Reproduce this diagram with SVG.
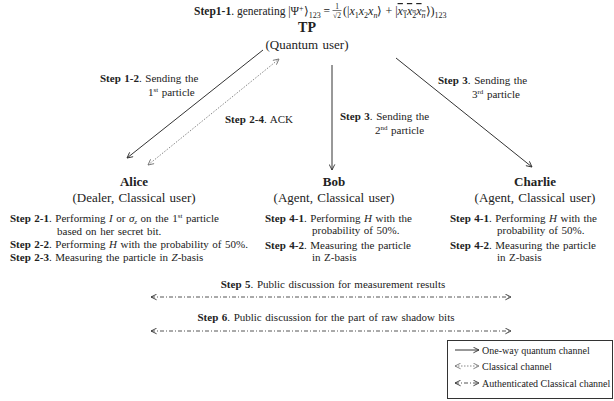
<svg xmlns="http://www.w3.org/2000/svg" width="614" height="401" viewBox="0 0 614 401" font-family="'Liberation Serif','Times New Roman',serif">
<defs>
<style>
text{font-family:"Liberation Serif","Times New Roman",serif;fill:#222}
.s{font-size:11px;word-spacing:0.8px}
.b{font-weight:bold}
.i{font-style:italic}
.n{font-size:13px;font-weight:bold;text-anchor:middle}
.r{font-size:13px;text-anchor:middle;word-spacing:1px}
.lg{font-size:10px}
.q{stroke:#333;stroke-width:1;fill:none}
.c{stroke:#888;stroke-width:1;fill:none;stroke-dasharray:1.5,1.5}
.a{stroke:#555;stroke-width:1;fill:none;stroke-dasharray:4,2,1,2}
</style>
<marker id="ah" viewBox="0 0 10 10" refX="9" refY="5" markerWidth="7" markerHeight="7" orient="auto-start-reverse" markerUnits="userSpaceOnUse">
<path d="M1,1 L9,5 L1,9" fill="none" stroke="#333" stroke-width="1.3"/>
</marker>
<marker id="ahg" viewBox="0 0 10 10" refX="9" refY="5" markerWidth="7" markerHeight="7" orient="auto-start-reverse" markerUnits="userSpaceOnUse">
<path d="M1,1 L9,5 L1,9" fill="none" stroke="#777" stroke-width="1.3"/>
</marker>
</defs>
<rect width="614" height="401" fill="#fff"/>

<g id="title">
<text x="330" y="15" text-anchor="end" style="font-size:11.5px"><tspan class="b">Step1-1</tspan>. generating  |Ψ<tspan font-size="8" dy="-4">+</tspan><tspan dy="4">⟩</tspan><tspan font-size="8" dy="2.5">123</tspan><tspan dy="-2.5"> =</tspan></text>
<text x="337" y="9" style="font-size:7.5px" text-anchor="middle">1</text>
<line x1="332.5" y1="10.5" x2="341.5" y2="10.5" stroke="#222" stroke-width="0.6"/>
<text x="337" y="18" style="font-size:7.5px" text-anchor="middle">√2</text>
<text x="343" y="15" style="font-size:12px">(|<tspan class="i">x</tspan><tspan font-size="8" dy="2.5">1</tspan><tspan class="i" dy="-2.5">x</tspan><tspan font-size="8" dy="2.5">2</tspan><tspan class="i" dy="-2.5">x</tspan><tspan font-size="8" dy="2.5" class="i">n</tspan><tspan dy="-2.5">⟩ + |</tspan><tspan style="text-decoration:overline"><tspan class="i">x</tspan><tspan font-size="8" dy="2.5">1</tspan><tspan class="i" dy="-2.5">x</tspan><tspan font-size="8" dy="2.5">2</tspan><tspan class="i" dy="-2.5">x</tspan><tspan font-size="8" dy="2.5" class="i">n</tspan></tspan><tspan dy="-2.5">⟩)</tspan><tspan font-size="8" dy="2.5">123</tspan></text>
</g>

<g id="tp">
<text x="307" y="32" class="n" style="font-size:14px">TP</text>
<text x="307" y="49" class="r">(Quantum user)</text>
</g>

<g id="alice">
<text x="134" y="186" class="n">Alice</text>
<text x="134" y="202" class="r">(Dealer, Classical user)</text>
<text x="10" y="222" class="s"><tspan class="b">Step 2-1</tspan>. Performing <tspan class="i">I</tspan> or <tspan class="i">σ</tspan><tspan class="i" font-size="7" dy="2">z</tspan><tspan dy="-2"> on the 1</tspan><tspan font-size="7" dy="-4">st</tspan><tspan dy="4"> particle</tspan></text>
<text x="57" y="235" class="s">based on her secret bit.</text>
<text x="10" y="248" class="s"><tspan class="b">Step 2-2</tspan>. Performing <tspan class="i">H</tspan> with the probability of 50%.</text>
<text x="10" y="261" class="s"><tspan class="b">Step 2-3</tspan>. Measuring the particle in <tspan class="i">Z</tspan>-basis</text>
</g>

<g id="bob">
<text x="334" y="186" class="n">Bob</text>
<text x="334" y="202" class="r">(Agent, Classical user)</text>
<text x="265" y="222" class="s"><tspan class="b">Step 4-1</tspan>. Performing <tspan class="i">H</tspan> with the</text>
<text x="312" y="234" class="s">probability of 50%.</text>
<text x="265" y="249" class="s"><tspan class="b">Step 4-2</tspan>. Measuring the particle</text>
<text x="312" y="261" class="s">in Z-basis</text>
</g>

<g id="charlie">
<text x="535" y="186" class="n">Charlie</text>
<text x="535" y="202" class="r">(Agent, Classical user)</text>
<text x="450" y="222" class="s"><tspan class="b">Step 4-1</tspan>. Performing <tspan class="i">H</tspan> with the</text>
<text x="497" y="234" class="s">probability of 50%.</text>
<text x="450" y="249" class="s"><tspan class="b">Step 4-2</tspan>. Measuring the particle</text>
<text x="497" y="261" class="s">in Z-basis</text>
</g>

<g id="connectors">
<line x1="263" y1="50" x2="127" y2="158" class="q" marker-end="url(#ah)"/>
<line x1="148" y1="165" x2="279" y2="59" class="c" marker-start="url(#ahg)" marker-end="url(#ahg)"/>
<line x1="332" y1="65" x2="332" y2="170" class="q" marker-end="url(#ah)"/>
<line x1="396" y1="58" x2="532" y2="167" class="q" marker-end="url(#ah)"/>
<line x1="151" y1="297" x2="511" y2="297" class="a" marker-start="url(#ah)" marker-end="url(#ah)"/>
<line x1="151" y1="331" x2="511" y2="331" class="a" marker-start="url(#ah)" marker-end="url(#ah)"/>
</g>

<g id="labels">
<text x="100" y="82" class="s"><tspan class="b">Step 1-2</tspan>. Sending the</text>
<text x="148" y="96" class="s">1<tspan font-size="7" dy="-4">st</tspan><tspan dy="4"> particle</tspan></text>
<text x="225" y="123" class="s"><tspan class="b">Step 2-4</tspan>. ACK</text>
<text x="340" y="120" class="s"><tspan class="b">Step 3</tspan>. Sending the</text>
<text x="375" y="134" class="s">2<tspan font-size="7" dy="-4">nd</tspan><tspan dy="4"> particle</tspan></text>
<text x="438" y="84" class="s"><tspan class="b">Step 3</tspan>. Sending the</text>
<text x="472" y="98" class="s">3<tspan font-size="7" dy="-4">rd</tspan><tspan dy="4"> particle</tspan></text>
<text x="333" y="288" class="s" text-anchor="middle"><tspan class="b">Step 5</tspan>. Public discussion for measurement results</text>
<text x="326" y="321" class="s" text-anchor="middle"><tspan class="b">Step 6</tspan>. Public discussion for the part of raw shadow bits</text>
</g>

<g id="legend">
<rect x="447.5" y="340.5" width="165" height="58" fill="#fff" stroke="#333" stroke-width="1"/>
<line x1="455" y1="350" x2="479" y2="350" class="q" marker-end="url(#ah)"/>
<text x="482" y="353.5" class="lg">One-way quantum channel</text>
<line x1="455" y1="366" x2="479" y2="366" class="c" marker-start="url(#ahg)" marker-end="url(#ahg)"/>
<text x="482" y="369.5" class="lg">Classical channel</text>
<line x1="455" y1="383" x2="479" y2="383" class="a" marker-start="url(#ah)" marker-end="url(#ah)"/>
<text x="482" y="386.5" class="lg">Authenticated Classical channel</text>
</g>
</svg>
